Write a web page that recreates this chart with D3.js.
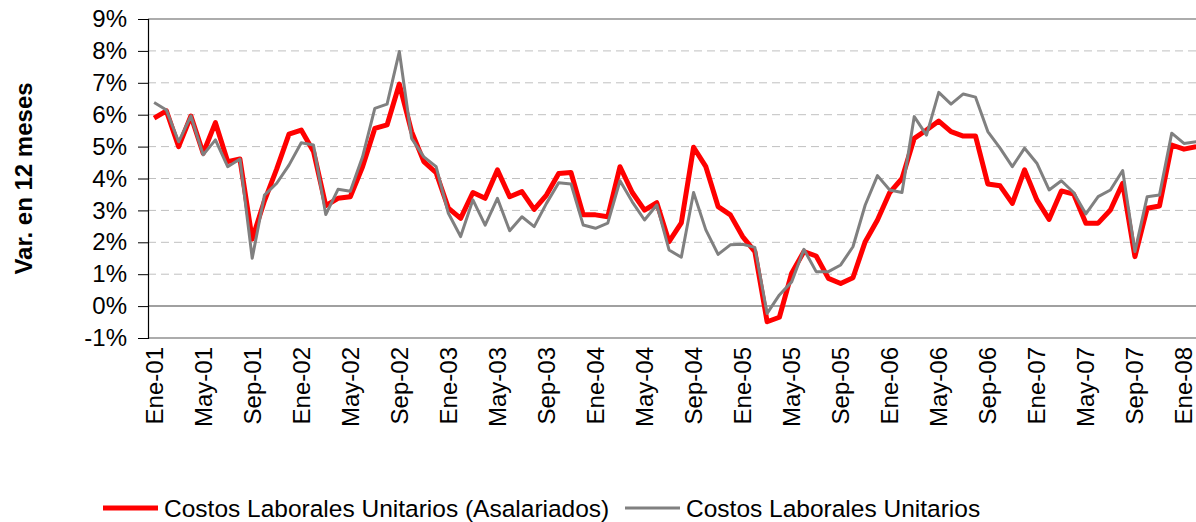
<!DOCTYPE html>
<html>
<head>
<meta charset="utf-8">
<script src="https://cdn.jsdelivr.net/npm/d3@7"></script>
<style>
  body { margin: 0; background: #fff; }
  svg { display: block; font-family: 'Liberation Sans', Arial, sans-serif; }
</style>
</head>
<body>
<div id="chart"></div>
<script>
// month abbreviations (es) and years covered
const monthNames = ['Ene', 'Feb', 'Mar', 'Abr', 'May', 'Jun', 'Jul', 'Ago', 'Sep', 'Oct', 'Nov', 'Dic']
const years = ['01', '02', '03', '04', '05', '06', '07', '08']
const nMonths = 86 // Ene-01 .. Feb-08

// Var. en 12 meses (%)
const asalariados = [
  5.89, 6.12, 5.00, 5.96, 4.79, 5.75, 4.53, 4.61, 2.10, 3.30, 4.30, 5.39,
  5.52, 4.85, 3.15, 3.38, 3.43, 4.37, 5.57, 5.68, 6.96, 5.47, 4.53, 4.18,
  3.07, 2.75, 3.56, 3.38, 4.27, 3.43, 3.59, 3.03, 3.48, 4.16, 4.19, 2.86,
  2.86, 2.80, 4.37, 3.56, 3.01, 3.24, 2.02, 2.61, 4.98, 4.37, 3.12, 2.86,
  2.18, 1.71, -0.49, -0.35, 1.03, 1.71, 1.57, 0.87, 0.71, 0.89, 2.02, 2.70,
  3.56, 4.00, 5.26, 5.52, 5.80, 5.47, 5.33, 5.33, 3.83, 3.77, 3.22, 4.27,
  3.33, 2.72, 3.61, 3.51, 2.60, 2.60, 3.01, 3.85, 1.55, 3.07, 3.14, 5.05,
  4.92, 5.00
]
const total = [
  6.38, 6.15, 5.15, 5.96, 4.74, 5.21, 4.37, 4.61, 1.50, 3.48, 3.85, 4.42,
  5.12, 5.05, 2.87, 3.66, 3.60, 4.68, 6.20, 6.33, 7.98, 5.26, 4.68, 4.37,
  2.91, 2.18, 3.33, 2.54, 3.38, 2.36, 2.80, 2.49, 3.22, 3.87, 3.83, 2.54,
  2.44, 2.60, 3.93, 3.27, 2.70, 3.17, 1.76, 1.53, 3.56, 2.39, 1.62, 1.92,
  1.94, 1.84, -0.23, 0.35, 0.76, 1.78, 1.08, 1.08, 1.29, 1.86, 3.17, 4.09,
  3.64, 3.56, 5.94, 5.36, 6.70, 6.33, 6.65, 6.55, 5.47, 4.95, 4.37, 4.95,
  4.48, 3.64, 3.93, 3.56, 2.89, 3.43, 3.64, 4.25, 1.71, 3.43, 3.48, 5.42,
  5.10, 5.15
]
const yTicks = [-1, 0, 1, 2, 3, 4, 5, 6, 7, 8, 9]
const seriesNames = ['Costos Laborales Unitarios (Asalariados)', 'Costos Laborales Unitarios']

// categories "Ene-01", "Feb-01", ...
const categories = []
years.forEach(y => monthNames.forEach(m => categories.push(m + '-' + y)))
categories.length = nMonths

const width = 1196
const height = 522
const margin = {top: 19, left: 148, bottom: 338}
const step = 12.26

const svg = d3.select('#chart').append('svg')
  .attr('width', width)
  .attr('height', height)

const x = d3.scaleBand()
  .domain(categories)
  .range([margin.left, margin.left + step * categories.length])

const y = d3.scaleLinear()
  .domain([-1, 9])
  .range([margin.bottom, margin.top])

const cx = d => x(d) + x.bandwidth() / 2

// gridlines (dashed), 0% solid
svg.append('g')
  .selectAll('line')
  .data(yTicks.filter(t => t !== 0 && t !== -1 && t !== 9))
  .enter().append('line')
  .attr('x1', margin.left).attr('x2', width)
  .attr('y1', d => y(d)).attr('y2', d => y(d))
  .attr('stroke', '#c0c0c0')
  .attr('stroke-width', 1)
  .attr('stroke-dasharray', '8,5')

// plot frame top and bottom
svg.append('g')
  .selectAll('line')
  .data([9, -1])
  .enter().append('line')
  .attr('x1', margin.left).attr('x2', width)
  .attr('y1', d => y(d)).attr('y2', d => y(d))
  .attr('stroke', '#909090')
  .attr('stroke-width', 1.5)

svg.append('line')
  .attr('x1', margin.left).attr('x2', width)
  .attr('y1', y(0)).attr('y2', y(0))
  .attr('stroke', '#808080')
  .attr('stroke-width', 1.5)

// y axis
const yAxis = d3.axisLeft(y)
  .tickValues(yTicks)
  .tickSize(10)
  .tickPadding(11)
  .tickFormat(d => d + '%')

const yg = svg.append('g')
  .attr('transform', 'translate(' + margin.left + ',0)')
  .call(yAxis)
yg.select('.domain').attr('stroke', '#000').attr('stroke-width', 1.2)
yg.selectAll('.tick line').attr('stroke', '#000')
yg.selectAll('text')
  .style('font-size', '24px')
  .attr('fill', '#000')

// y title
svg.append('text')
  .attr('transform', 'translate(32,' + y(4) + ') rotate(-90)')
  .attr('text-anchor', 'middle')
  .style('font-size', '24px')
  .style('font-weight', 'bold')
  .text('Var. en 12 meses')

// x labels, every 4 months
const xLabels = categories.filter((c, i) => i % 4 === 0)
svg.append('g')
  .selectAll('text')
  .data(xLabels)
  .enter().append('text')
  .attr('transform', d => 'translate(' + cx(d) + ',347) rotate(-90)')
  .attr('text-anchor', 'end')
  .attr('dy', '0.35em')
  .style('font-size', '24px')
  .text(d => d)

// lines
const line = d3.line()
  .x((d, i) => cx(categories[i]))
  .y(d => y(d))

svg.append('path')
  .datum(asalariados)
  .attr('d', line)
  .attr('fill', 'none')
  .attr('stroke', '#ff0000')
  .attr('stroke-width', 5)
  .attr('stroke-linejoin', 'round')

svg.append('path')
  .datum(total)
  .attr('d', line)
  .attr('fill', 'none')
  .attr('stroke', '#808080')
  .attr('stroke-width', 3)
  .attr('stroke-linejoin', 'round')

// legend
const legend = [
  {name: seriesNames[0], color: '#ff0000', w: 5, x0: 103},
  {name: seriesNames[1], color: '#808080', w: 3, x0: 625}
]
const lg = svg.append('g').selectAll('g')
  .data(legend)
  .enter().append('g')
  .attr('transform', d => 'translate(' + d.x0 + ',508)')
lg.append('line')
  .attr('x1', 0).attr('x2', 55)
  .attr('stroke', d => d.color)
  .attr('stroke-width', d => d.w)
lg.append('text')
  .attr('x', 61)
  .attr('dy', '0.35em')
  .style('font-size', '24.5px')
  .text(d => d.name)
</script>
</body>
</html>
